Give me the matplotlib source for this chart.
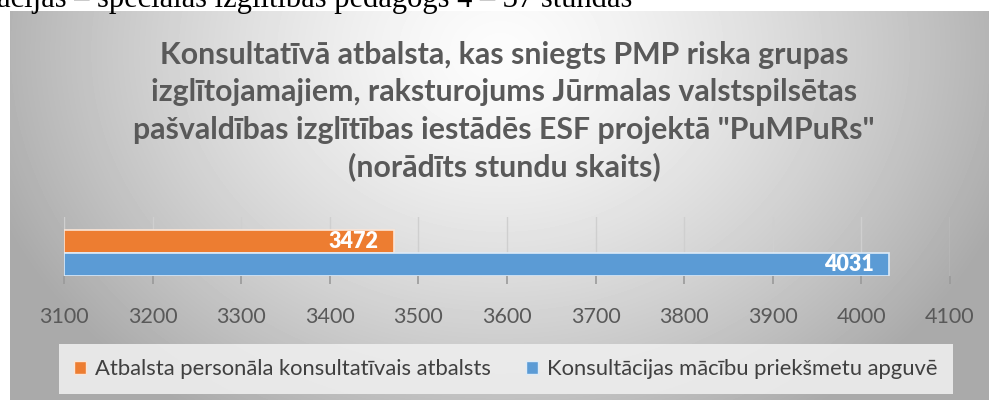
import numpy as np
import matplotlib.pyplot as plt
from matplotlib.patches import Patch

# data
series_names = ['Atbalsta personāla konsultatīvais atbalsts',
                'Konsultācijas mācību priekšmetu apguvē']
series_values = [3472, 4031]
series_colors = ['#ED7D31', '#5B9BD5']
edge_colors = ['#fbe5d6', '#deebf7']
x_ticks = list(range(3100, 4101, 100))

title_lines = ['Konsultatīvā atbalsta, kas sniegts PMP riska grupas',
               'izglītojamajiem, raksturojums Jūrmalas valstspilsētas',
               'pašvaldības izglītības iestādēs ESF projektā "PuMPuRs"',
               '(norādīts stundu skaits)']
top_text = 'acijas – speciālās izglītības pedagogs 4 – 37 stundas'

W, H = 989, 400
fig = plt.figure(figsize=(W / 100, H / 100), dpi=100)
fig.patch.set_facecolor('white')

# page text cut off above the chart
fig.text(-3 / W, 1 - 7 / H, top_text, family='Liberation Serif', size=22,
         va='baseline', ha='left', color='black')

# gradient chart background
bg = fig.add_axes([10 / W, 0, 979 / W, 389 / H], zorder=0)
yy, xx = np.mgrid[0:389, 0:979]
d = np.sqrt(((xx - 490) / 520.0) ** 2 + ((yy - 40) / 420.0) ** 2)
val = np.clip(252 - 78 * d ** 1.4, 170, 255) / 255.0
bg.imshow(val, cmap='gray', vmin=0, vmax=1, aspect='auto',
          interpolation='bilinear')
bg.axis('off')

for i, line in enumerate(title_lines):
    fig.text(504 / W, 1 - (55 + 37.3 * i) / H, line, family='Lato',
             weight='bold', size=21.8, color='#595959', ha='center', va='center')

ax = fig.add_axes([64 / W, 1 - 276 / H, 886 / W, 59 / H], zorder=2)
ax.set_facecolor('none')
ypos = [1, 0]
for name, v, y, c, ec in zip(series_names, series_values, ypos, series_colors, edge_colors):
    ax.barh(y, v - 3100, left=3100, height=1, color=c, edgecolor=ec,
            linewidth=1.2, zorder=3)
    ax.text(v - 17, y, str(v), ha='right', va='center', color='white',
            family='Lato', weight='heavy', size=15.5, zorder=4)

ax.set_xlim(3100, 4100)
ax.set_ylim(-0.5, 2.07)
ax.set_xticks(x_ticks)
ax.set_yticks([])
ax.grid(axis='x', color='#cfcfcf', linewidth=1, zorder=1)
ax.tick_params(axis='x', direction='out', length=6, width=1.2, color='#9a9a9a',
               pad=16, labelsize=15.5, labelcolor='#595959')
for lab in ax.get_xticklabels():
    lab.set_family('Lato')
for s in ax.spines.values():
    s.set_visible(False)

handles = [Patch(facecolor=c, edgecolor=ec) for c, ec in zip(series_colors, edge_colors)]
leg = fig.legend(handles, series_names, loc='center', ncol=2,
                 bbox_to_anchor=(506 / W, 1 - 369 / H), frameon=True,
                 facecolor='#eeeeee', edgecolor='none', framealpha=0.9,
                 prop={'family': 'Lato', 'size': 15.8},
                 handlelength=0.55, handleheight=0.55, handletextpad=0.4,
                 columnspacing=1.6, borderpad=0.7, fancybox=False)
for t in leg.get_texts():
    t.set_color('#404040')

fig.savefig('out.png', dpi=100)
